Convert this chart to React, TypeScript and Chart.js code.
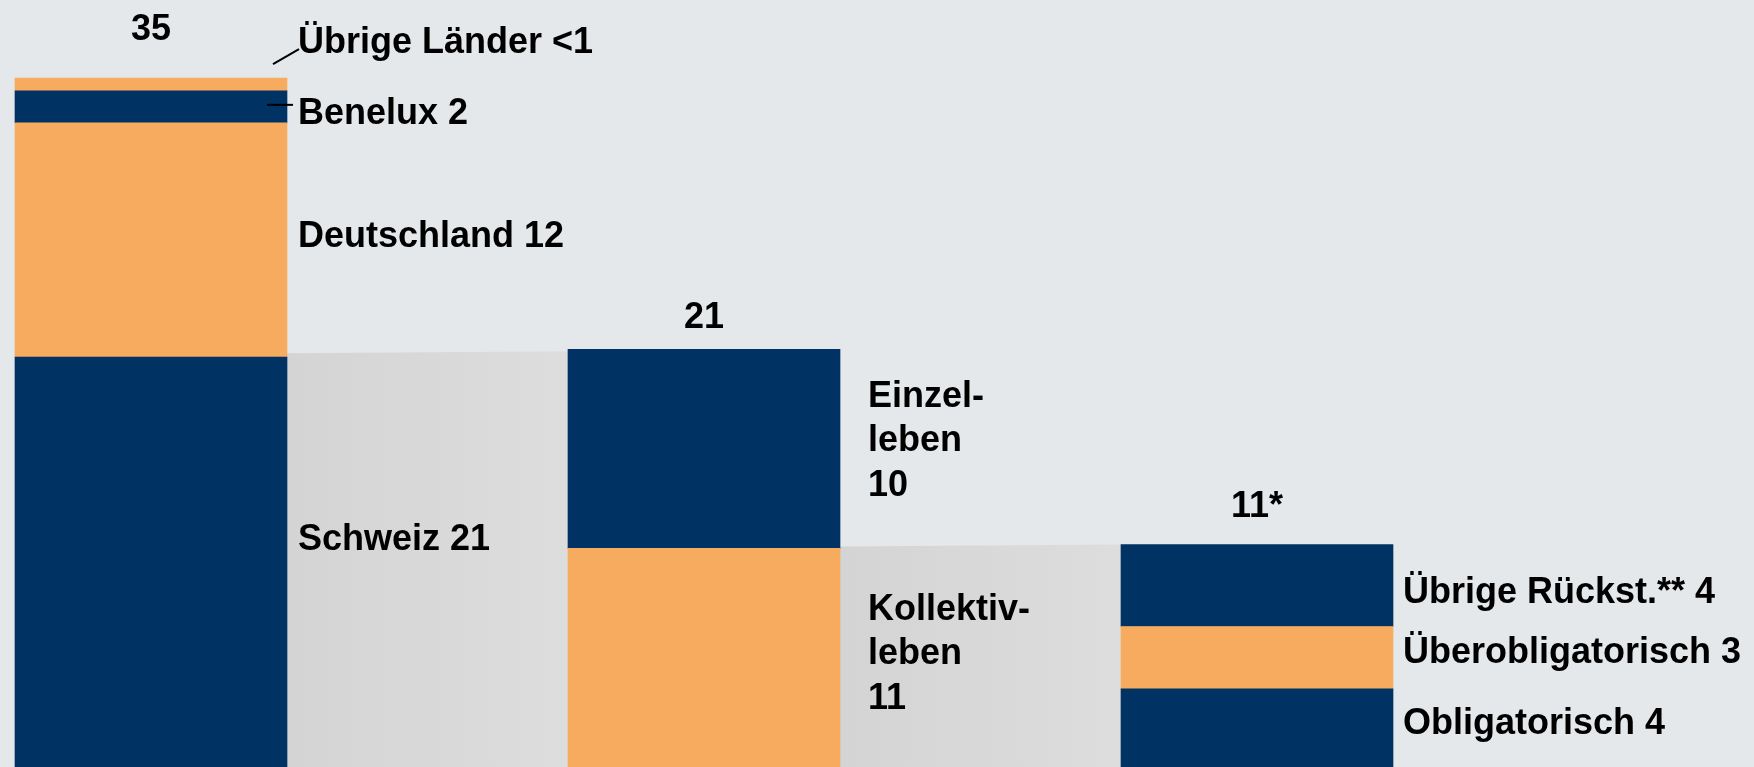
import React, { useEffect, useRef } from 'react';
import { Chart, registerables } from 'chart.js';

Chart.register(...registerables);

// ---------- data ----------
const categories = ['Gruppe', 'Leben Schweiz', 'BVG'];

const countryNames = ['Schweiz', 'Deutschland', 'Benelux', 'Übrige Länder'];
const countryValues = [21, 12, 1.65, 0.65];
const countryLabels = ['Schweiz 21', 'Deutschland 12', 'Benelux 2', 'Übrige Länder <1'];

const lifeNames = ['Kollektivleben', 'Einzelleben'];
const lifeValues = [11.2, 10.2];
const lifeLabels = ['Kollektiv-\nleben\n11', 'Einzel-\nleben\n10'];

const bvgNames = ['Obligatorisch', 'Überobligatorisch', 'Übrige Rückstellungen'];
const bvgValues = [4.0, 3.2, 4.2];
const bvgLabels = ['Obligatorisch 4', 'Überobligatorisch 3', 'Übrige Rückst.** 4'];

const totalLabels = ['35', '21', '11*'];

// connector bands between bars (value at left edge, value at right edge)
const connectorFrom = [21.2, 11.3];
const connectorTo = [21.3, 11.4];

// ---------- styles ----------
const NAVY = '#003263';
const ORANGE = '#f7ab5e';
const BG = '#e4e8eb';
const FONT = 'bold 36px "Liberation Sans", Arial, sans-serif';
const LINE_H = 44.5;

const groups = [
  { names: countryNames, values: countryValues, labels: countryLabels, colors: [NAVY, ORANGE, NAVY, ORANGE] },
  { names: lifeNames, values: lifeValues, labels: lifeLabels, colors: [ORANGE, NAVY] },
  { names: bvgNames, values: bvgValues, labels: bvgLabels, colors: [NAVY, ORANGE, NAVY] },
];

// label layout (pixel tweaks relative to segments)
const labelDy = [[-12, 7, 17, -31], [-38, -42], [6, 5, 18]];
const labelDx = [11, 28, 10];
const totalDy = [-38, -21, -27.5];

export default function App() {
  const ref = useRef<HTMLCanvasElement | null>(null);

  useEffect(() => {
    if (!ref.current) return;

    const datasets: any[] = [];
    const index: { g: number; s: number; ds: number }[] = [];
    groups.forEach((g, gi) => {
      g.values.forEach((v, si) => {
        index.push({ g: gi, s: si, ds: datasets.length });
        datasets.push({
          label: g.names[si],
          data: categories.map((_, ci) => (ci === gi ? v : null)),
          backgroundColor: g.colors[si],
          borderWidth: 0,
          barThickness: 272,
          clip: false,
        });
      });
    });

    const getEl = (chart: any, ds: number, gi: number) =>
      chart.getDatasetMeta(ds).data[gi].getProps(['x', 'y', 'base', 'width'], true);

    const bgPlugin = {
      id: 'bg',
      beforeDraw(chart: any) {
        const c = chart.ctx;
        c.save();
        c.fillStyle = BG;
        c.fillRect(0, 0, chart.width, chart.height);
        c.restore();
      },
    };

    const bandPlugin = {
      id: 'bands',
      beforeDatasetsDraw(chart: any) {
        const c = chart.ctx;
        const y = chart.scales.y;
        for (let i = 0; i < connectorFrom.length; i++) {
          const a = index.find((e) => e.g === i)!;
          const b = index.find((e) => e.g === i + 1)!;
          const ea = getEl(chart, a.ds, i);
          const eb = getEl(chart, b.ds, i + 1);
          const x1 = ea.x + ea.width / 2;
          const x2 = eb.x - eb.width / 2;
          const bottom = y.getPixelForValue(0);
          const grad = c.createLinearGradient(x1, 0, x2, 0);
          grad.addColorStop(0, '#d4d4d4');
          grad.addColorStop(1, '#dddddd');
          c.save();
          c.fillStyle = grad;
          c.beginPath();
          c.moveTo(x1, y.getPixelForValue(connectorFrom[i]));
          c.lineTo(x2, y.getPixelForValue(connectorTo[i]));
          c.lineTo(x2, bottom);
          c.lineTo(x1, bottom);
          c.closePath();
          c.fill();
          c.restore();
        }
      },
    };

    const labelPlugin = {
      id: 'labels',
      afterDatasetsDraw(chart: any) {
        const c = chart.ctx;
        c.save();
        c.font = FONT;
        c.fillStyle = '#000';
        c.textBaseline = 'alphabetic';
        groups.forEach((g, gi) => {
          let top = Infinity;
          let cx = 0;
          index.filter((e) => e.g === gi).forEach((e) => {
            const el = getEl(chart, e.ds, gi);
            top = Math.min(top, el.y);
            cx = el.x;
            const right = el.x + el.width / 2;
            const mid = (el.y + el.base) / 2;
            const lines = String(g.labels[e.s]).split('\n');
            const base = mid + labelDy[gi][e.s];
            c.textAlign = 'left';
            lines.forEach((ln, li) => c.fillText(ln, right + labelDx[gi], base + li * LINE_H));
            // leader lines for the thin segments of the first bar
            if (gi === 0 && e.s === 3) {
              c.strokeStyle = '#000';
              c.lineWidth = 2;
              c.beginPath();
              c.moveTo(right - 14, el.y - 14);
              c.lineTo(right + 12, el.y - 29);
              c.stroke();
            }
            if (gi === 0 && e.s === 2) {
              c.strokeStyle = '#000';
              c.lineWidth = 2;
              c.beginPath();
              c.moveTo(right - 20, mid - 2);
              c.lineTo(right + 6, mid - 2);
              c.stroke();
            }
          });
          c.textAlign = 'center';
          c.fillText(totalLabels[gi], cx, top + totalDy[gi]);
        });
        c.restore();
      },
    };

    const chart = new Chart(ref.current, {
      type: 'bar',
      data: { labels: categories, datasets },
      options: {
        animation: false,
        responsive: true,
        maintainAspectRatio: false,
        layout: { padding: { left: 151, right: 497, top: 0, bottom: 0 } },
        plugins: {
          legend: { display: false },
          tooltip: { enabled: false },
          title: { display: false },
        },
        scales: {
          x: { type: 'category', stacked: true, display: false, offset: false },
          y: { stacked: true, display: false, min: 0, max: 39.3 },
        },
      },
      plugins: [bgPlugin, bandPlugin, labelPlugin],
    } as any);

    return () => chart.destroy();
  }, []);

  return (
    <div style={{ position: 'fixed', left: 0, top: 0, width: 1754, height: 767, background: BG }}>
      <canvas ref={ref} />
    </div>
  );
}
